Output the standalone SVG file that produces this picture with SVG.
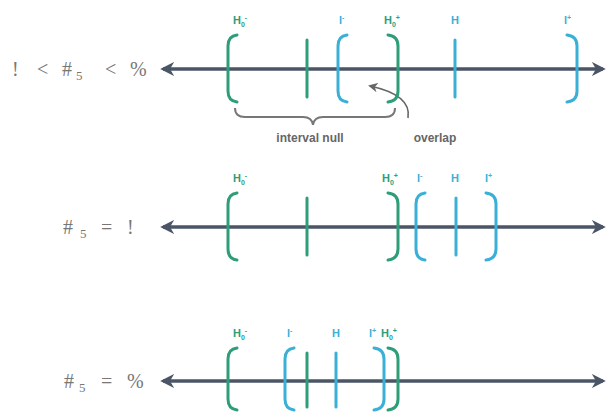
<svg xmlns="http://www.w3.org/2000/svg" width="607" height="416" viewBox="0 0 607 416">
<defs>
<marker id="ah" viewBox="0 0 10 10" refX="8" refY="5" markerWidth="4" markerHeight="4" orient="auto-start-reverse" markerUnits="strokeWidth"><path d="M0,0 L10,5 L0,10 L3,5 Z" fill="#4a5566"/></marker>
<marker id="sa" viewBox="0 0 10 10" refX="8" refY="5" markerWidth="6" markerHeight="6" orient="auto" markerUnits="strokeWidth"><path d="M0,0 L10,5 L0,10 L3,5 Z" fill="#666"/></marker>
</defs>
<style>
.axis{stroke:#4a5566;stroke-width:3.5;fill:none}
.g{stroke:#2e9e78;stroke-width:3;fill:none;stroke-linecap:round}
.b{stroke:#3ab0d6;stroke-width:3;fill:none;stroke-linecap:round}
.lg{fill:#2e9e78;font-family:"Liberation Sans",Arial,sans-serif;font-size:11px;font-weight:bold}
.lb{fill:#3ab0d6;font-family:"Liberation Sans",Arial,sans-serif;font-size:11px;font-weight:bold}
.m{fill:#777;font-family:"Liberation Serif","Times New Roman",serif;font-size:20px}
.ms{font-size:13px}
.t{fill:#666;font-family:"Liberation Sans",Arial,sans-serif;font-size:12px;font-weight:bold}
.sup{font-size:7px}
</style>
<rect width="607" height="416" fill="#ffffff"/>

<g id="connectors">
<line class="axis" x1="163" y1="69" x2="603" y2="69" marker-start="url(#ah)" marker-end="url(#ah)"/>
<line class="axis" x1="163" y1="227" x2="603" y2="227" marker-start="url(#ah)" marker-end="url(#ah)"/>
<line class="axis" x1="163" y1="381" x2="603" y2="381" marker-start="url(#ah)" marker-end="url(#ah)"/>
<path d="M235 108 Q235 117 245 117 L303 117 Q312 117 313 125 Q314 117 323 117 L385 117 Q395 117 395 108" fill="none" stroke="#777" stroke-width="2"/>
<path d="M408 118 Q412 95 370 86" fill="none" stroke="#666" stroke-width="1.6" marker-end="url(#sa)"/>
</g>

<g id="row1">
<text class="m" y="76"><tspan x="12">!</tspan><tspan x="37">&lt;</tspan><tspan x="62">#</tspan><tspan class="ms" x="76" dy="4">5</tspan><tspan x="105" dy="-4">&lt;</tspan><tspan x="130">%</tspan></text>
<path class="g" d="M237 35 Q228 36 228 46 L228 91 Q228 101 237 102"/>
<line class="g" x1="307" y1="40" x2="307" y2="97"/>
<path class="b" d="M347 35 Q338 36 338 46 L338 91 Q338 101 347 102"/>
<path class="g" d="M388 35 Q398 36 398 46 L398 91 Q398 101 388 102"/>
<line class="b" x1="455" y1="40" x2="455" y2="97"/>
<path class="b" d="M567 35 Q577 36 577 46 L577 91 Q577 101 567 102"/>
<text class="lg" x="233" y="24">H<tspan class="sup" dy="3">0</tspan><tspan class="sup" dy="-7">-</tspan></text>
<text class="lb" x="339" y="24">l<tspan class="sup" dy="-4">-</tspan></text>
<text class="lg" x="384" y="24">H<tspan class="sup" dy="3">0</tspan><tspan class="sup" dy="-7">+</tspan></text>
<text class="lb" x="451" y="24">H</text>
<text class="lb" x="564" y="24">l<tspan class="sup" dy="-4">+</tspan></text>
<text class="t" x="310" y="142" text-anchor="middle">interval null</text>
<text class="t" x="435" y="142" text-anchor="middle">overlap</text>
</g>

<g id="row2">
<text class="m" y="234"><tspan x="63">#</tspan><tspan class="ms" x="80" dy="4">5</tspan><tspan x="101" dy="-4">=</tspan><tspan x="127">!</tspan></text>
<path class="g" d="M237 193 Q228 194 228 204 L228 249 Q228 259 237 260"/>
<line class="g" x1="307" y1="198" x2="307" y2="255"/>
<path class="g" d="M388 193 Q398 194 398 204 L398 249 Q398 259 388 260"/>
<path class="b" d="M425 193 Q416 194 416 204 L416 249 Q416 259 425 260"/>
<line class="b" x1="456" y1="198" x2="456" y2="255"/>
<path class="b" d="M486 193 Q496 194 496 204 L496 249 Q496 259 486 260"/>
<text class="lg" x="233" y="182">H<tspan class="sup" dy="3">0</tspan><tspan class="sup" dy="-7">-</tspan></text>
<text class="lg" x="382" y="182">H<tspan class="sup" dy="3">0</tspan><tspan class="sup" dy="-7">+</tspan></text>
<text class="lb" x="417" y="182">l<tspan class="sup" dy="-4">-</tspan></text>
<text class="lb" x="451" y="182">H</text>
<text class="lb" x="485" y="182">l<tspan class="sup" dy="-4">+</tspan></text>
</g>

<g id="row3">
<text class="m" y="388"><tspan x="64">#</tspan><tspan class="ms" x="79" dy="4">5</tspan><tspan x="101" dy="-4">=</tspan><tspan x="127">%</tspan></text>
<path class="g" d="M237 348 Q228 349 228 359 L228 399 Q228 409 237 410"/>
<path class="b" d="M294 348 Q285 349 285 359 L285 399 Q285 409 294 410"/>
<line class="g" x1="307" y1="353" x2="307" y2="407"/>
<line class="b" x1="336" y1="353" x2="336" y2="407"/>
<path class="b" d="M374 348 Q384 349 384 359 L384 399 Q384 409 374 410"/>
<path class="g" d="M388 348 Q398 349 398 359 L398 399 Q398 409 388 410"/>
<text class="lg" x="233" y="337">H<tspan class="sup" dy="3">0</tspan><tspan class="sup" dy="-7">-</tspan></text>
<text class="lb" x="287" y="337">l<tspan class="sup" dy="-4">-</tspan></text>
<text class="lb" x="332" y="337">H</text>
<text class="lb" x="369" y="337">l<tspan class="sup" dy="-4">+</tspan></text>
<text class="lg" x="381" y="337">H<tspan class="sup" dy="3">0</tspan><tspan class="sup" dy="-7">+</tspan></text>
</g>
</svg>
